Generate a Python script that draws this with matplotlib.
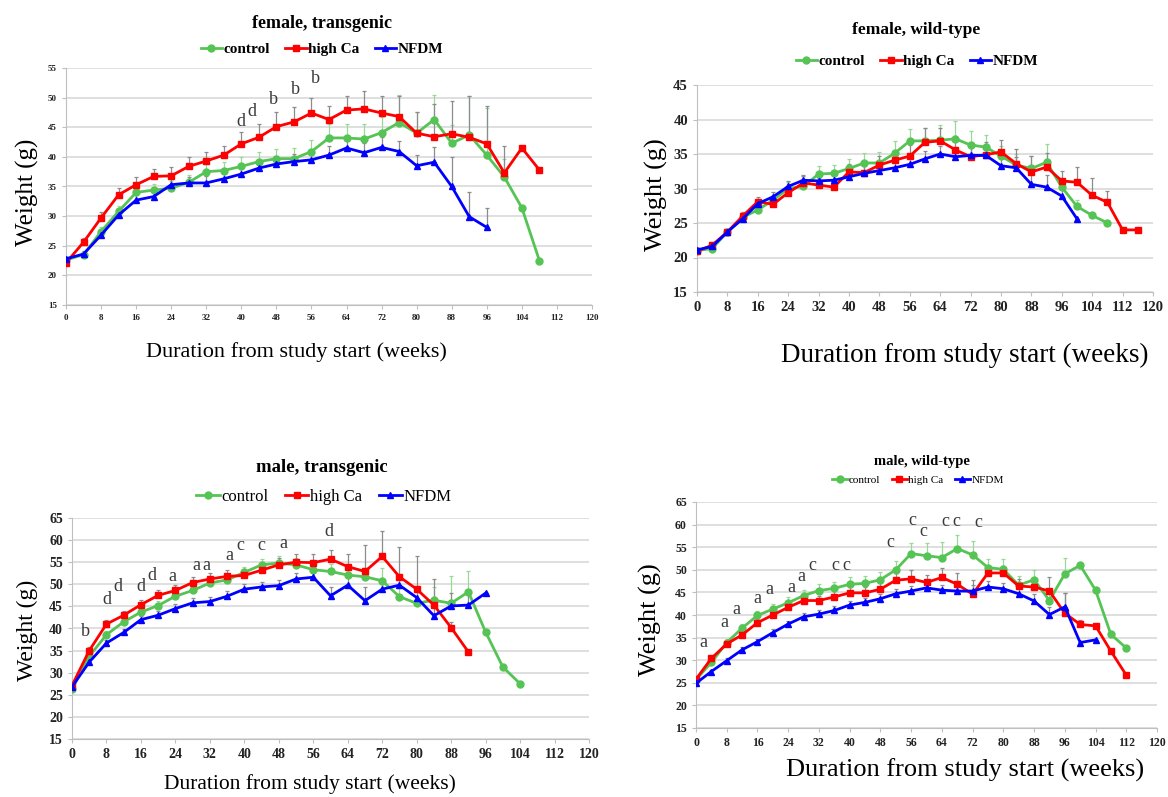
import numpy as np
import matplotlib
matplotlib.use('Agg')
import matplotlib.pyplot as plt
from matplotlib.lines import Line2D

plt.rcParams['font.family'] = ['Liberation Serif', 'DejaVu Serif']

# ---------------- dados (semanas de 4 em 4) ----------------
# female, transgenic
ft_control = [22.6, 23.5, 27.4, 30.8, 34.0, 34.4, 34.7, 35.7, 37.5, 37.7, 38.4, 39.2, 39.7, 39.7,
              40.9, 43.2, 43.2, 43.0, 44.1, 45.8, 44.0, 46.3, 42.3, 43.7, 40.3, 36.6, 31.4, 22.5]
ft_highca = [22.1, 25.6, 29.7, 33.6, 35.3, 36.7, 36.8, 38.4, 39.3, 40.3, 42.2, 43.3, 45.1, 45.9,
             47.4, 46.3, 47.9, 48.1, 47.4, 46.8, 44.0, 43.4, 43.9, 43.3, 42.2, 37.3, 41.5, 37.8]
ft_nfdm = [22.8, 23.6, 26.8, 30.2, 32.7, 33.3, 35.3, 35.6, 35.6, 36.3, 37.1, 38.1, 38.8, 39.2,
           39.5, 40.3, 41.5, 40.7, 41.6, 40.9, 38.5, 39.1, 35.0, 29.9, 28.1]
ft_control_err = [0.4, 0.6, 0.8, 0.9, 1.0, 1.0, 1.2, 1.3, 1.4, 1.5, 1.5, 1.6, 1.7, 1.8,
                  2.0, 2.3, 2.3, 2.5, 2.6, 4.6, 3.5, 4.1, 3.0, 6.5, 8.0, 3.0, 0, 0]
ft_highca_err = [0.5, 0.7, 1.0, 1.2, 1.3, 1.2, 1.5, 1.6, 1.6, 1.6, 2.0, 2.2, 2.5, 2.6,
                 2.5, 2.3, 2.4, 3.0, 2.8, 3.5, 3.6, 5.5, 5.6, 6.9, 6.4, 4.6, 0, 0]
ft_nfdm_err = [0.3, 0.5, 0.7, 0.8, 0.8, 0.9, 1.0, 1.0, 1.1, 1.1, 1.2, 1.2, 1.3, 1.3,
               1.4, 1.5, 1.6, 1.6, 1.7, 1.8, 1.9, 2.5, 5.0, 4.2, 3.3]
ft_letters = [(39.8, 45.9, 'd'), (42.4, 47.6, 'd'), (47.3, 49.6, 'b'), (52.3, 51.4, 'b'), (56.8, 53.3, 'b')]

# female, wild-type
fw_control = [21.0, 21.3, 23.7, 25.8, 26.9, 28.3, 30.0, 30.3, 32.1, 32.2, 32.9, 33.7, 33.7, 35.1,
              36.9, 36.9, 37.0, 37.2, 36.3, 36.0, 34.7, 33.4, 32.9, 33.8, 30.2, 27.4, 26.1, 25.0]
fw_highca = [20.9, 21.8, 23.7, 26.0, 28.1, 27.7, 29.4, 30.8, 30.5, 30.2, 32.4, 32.3, 33.4, 34.1,
             34.7, 36.7, 36.9, 35.6, 34.6, 34.9, 35.3, 33.6, 32.4, 33.1, 31.1, 30.9, 29.0, 28.0, 24.0, 24.0]
fw_nfdm = [21.1, 21.6, 23.7, 25.6, 27.8, 28.8, 30.3, 31.2, 31.1, 31.2, 31.7, 32.2, 32.6, 33.0,
           33.5, 34.3, 35.0, 34.6, 34.8, 34.8, 33.3, 33.0, 30.6, 30.2, 28.9, 25.6]
fw_control_err = [0.3, 0.4, 0.5, 0.6, 0.7, 0.8, 0.9, 1.0, 1.2, 1.2, 1.4, 1.5, 1.6, 1.8,
                  1.7, 1.8, 2.2, 2.6, 2.0, 1.8, 1.5, 1.6, 1.8, 2.7, 1.0, 1.0, 0, 0]
fw_highca_err = [0.3, 0.4, 0.5, 0.6, 0.7, 0.8, 0.9, 1.0, 1.0, 1.0, 1.2, 1.2, 1.3, 1.4,
                 1.6, 2.1, 1.9, 2.0, 1.8, 1.8, 1.7, 2.1, 2.3, 2.0, 1.5, 2.2, 2.5, 1.7, 0, 0]
fw_nfdm_err = [0.3, 0.3, 0.4, 0.5, 0.6, 0.7, 0.8, 0.8, 0.9, 0.9, 1.0, 1.0, 1.0, 1.1,
               1.1, 1.2, 1.2, 1.2, 1.3, 1.3, 1.4, 1.5, 1.6, 1.8, 1.5, 0]

# male, transgenic
mt_control = [26.3, 33.7, 38.6, 41.5, 43.7, 45.2, 47.3, 48.6, 50.3, 51.0, 52.7, 54.4, 54.8, 54.4,
              53.3, 52.9, 52.1, 51.7, 50.8, 47.2, 45.7, 46.4, 45.7, 48.3, 39.2, 31.3, 27.5]
mt_highca = [27.1, 35.0, 41.0, 43.0, 45.4, 47.5, 48.6, 50.4, 51.2, 51.8, 52.0, 53.2, 54.4, 55.0,
             54.9, 55.7, 54.0, 52.9, 56.3, 51.7, 48.9, 45.3, 40.2, 34.7]
mt_nfdm = [26.8, 32.4, 36.7, 39.1, 42.0, 43.0, 44.5, 45.8, 46.1, 47.3, 48.9, 49.4, 49.7, 51.2,
           51.6, 47.4, 49.8, 46.3, 48.9, 49.8, 47.0, 42.9, 45.1, 45.3, 48.0]
mt_control_err = [0.4, 0.7, 0.8, 0.9, 1.0, 1.0, 1.1, 1.2, 1.2, 1.3, 1.3, 1.4, 1.5, 1.6,
                  1.6, 1.7, 1.8, 1.9, 2.8, 2.0, 2.5, 3.0, 6.2, 4.8, 0, 0, 0]
mt_highca_err = [0.5, 0.8, 1.0, 1.0, 1.1, 1.2, 1.2, 1.3, 1.3, 1.4, 1.4, 1.5, 1.6, 1.8,
                 2.0, 2.0, 2.9, 6.0, 5.7, 6.7, 7.5, 6.0, 1.2, 0]
mt_nfdm_err = [0.4, 0.6, 0.7, 0.8, 0.8, 0.9, 1.0, 1.0, 1.1, 1.1, 1.2, 1.2, 1.3, 1.4,
               1.5, 2.0, 1.8, 3.2, 2.0, 2.2, 2.5, 4.0, 3.0, 3.0, 0]
mt_letters = [(3.2, 39.4, 'b'), (8.1, 46.5, 'd'), (10.7, 49.5, 'd'), (16.1, 49.5, 'd'), (18.6, 52.0, 'd'),
              (23.3, 51.8, 'a'), (28.9, 54.3, 'a'), (31.2, 54.3, 'a'), (36.5, 56.5, 'a'), (39.0, 58.8, 'c'),
              (44.0, 58.8, 'c'), (49.1, 59.2, 'a'), (59.6, 62.0, 'd')]

# male, wild-type
mw_control = [25.7, 29.5, 33.9, 37.1, 39.9, 41.3, 42.7, 44.3, 45.4, 45.9, 46.8, 47.0, 47.8, 50.0,
              53.6, 53.1, 52.7, 54.7, 53.3, 50.5, 50.1, 46.6, 47.8, 43.2, 49.1, 51.0, 45.5, 35.7, 32.7]
mw_highca = [25.8, 30.4, 33.6, 35.6, 38.3, 40.0, 41.7, 43.2, 43.2, 44.0, 44.9, 44.9, 45.7, 47.7,
             48.0, 47.2, 48.3, 46.8, 44.6, 49.3, 49.3, 46.4, 46.2, 45.3, 40.4, 37.9, 37.6, 32.0, 26.7]
mw_nfdm = [24.9, 27.5, 29.9, 32.3, 34.1, 36.1, 38.0, 39.6, 40.2, 41.0, 42.2, 42.8, 43.6, 44.7,
           45.3, 46.0, 45.5, 45.3, 45.3, 46.2, 45.8, 44.7, 43.1, 40.1, 41.8, 33.9, 34.5]
mw_control_err = [0.4, 0.6, 0.8, 1.0, 1.0, 1.1, 1.2, 1.3, 1.4, 1.5, 1.6, 1.7, 1.8, 2.0,
                  2.3, 2.8, 3.5, 2.9, 3.1, 2.0, 2.4, 2.0, 2.2, 1.8, 3.5, 0, 0, 0, 0]
mw_highca_err = [0.4, 0.6, 0.7, 0.8, 0.9, 1.0, 1.0, 1.1, 1.1, 1.2, 1.2, 1.3, 1.4, 1.5,
                 1.9, 1.6, 2.2, 2.5, 3.1, 1.5, 1.5, 1.6, 1.7, 3.1, 4.5, 1.0, 0, 0, 0]
mw_nfdm_err = [0.3, 0.4, 0.5, 0.6, 0.6, 0.7, 0.7, 0.8, 0.8, 0.9, 0.9, 1.0, 1.0, 1.1,
               1.1, 1.2, 1.2, 1.2, 1.3, 1.3, 1.3, 1.4, 1.5, 1.6, 3.1, 0, 0]
mw_letters = [(1.9, 33.9, 'a'), (7.5, 38.3, 'a'), (10.4, 41.3, 'a'), (16.0, 43.7, 'a'), (19.0, 45.7, 'a'),
              (24.8, 46.1, 'a'), (27.5, 48.5, 'a'), (30.4, 50.9, 'c'), (36.2, 50.9, 'c'), (39.2, 50.9, 'c'),
              (50.6, 56.0, 'c'), (56.4, 60.8, 'c'), (59.3, 58.4, 'c'), (65.0, 60.7, 'c'), (67.8, 60.7, 'c'),
              (73.5, 60.4, 'c')]

series_names = ['control', 'high Ca', 'NFDM']
colors = ['#55c455', '#ff0000', '#0000ff']
err_colors = ['#9ad89a', '#8c8c8c', '#8c8c8c']
markers = ['o', 's', '^']
x_ticks = np.arange(0, 121, 8)

W, H = 1168, 797
fig = plt.figure(figsize=(W / 100, H / 100), dpi=100)


def px(x0, y0, x1, y1):
    # converte caixa em pixels para coordenadas da figura
    return [x0 / W, 1 - y1 / H, (x1 - x0) / W, (y1 - y0) / H]


def painel(box, ylim, ystep, series, errs, letters, title, title_pos, title_fs,
           leg_pos, leg_fs, leg_bold, tick_fs, ylab_pos, ylab_fs, xlab_pos, xlab_fs):
    ax = fig.add_axes(px(*box))
    for i in range(3):
        y = np.array(series[i])
        e = np.array(errs[i])
        wk = np.arange(len(y)) * 4
        ax.errorbar(wk, y, yerr=[np.zeros(len(e)), e], fmt='none', ecolor=err_colors[i],
                    elinewidth=0.9, capsize=1.5, capthick=0.9, zorder=2)
    for i in range(3):
        y = np.array(series[i])
        wk = np.arange(len(y)) * 4
        ax.plot(wk, y, color=colors[i], marker=markers[i], markersize=5, linewidth=2, zorder=3)
    for (xx, yy, s) in letters:
        ax.text(xx, yy, s, ha='center', va='center', fontsize=13, color='#3a3a3a')
    ax.set_xlim(0, 120)
    ax.set_ylim(*ylim)
    ax.set_xticks(x_ticks)
    ax.set_yticks(np.arange(ylim[0], ylim[1] + 1, ystep))
    ax.yaxis.grid(True, color='#d9d9d9', linewidth=1.2)
    ax.set_axisbelow(True)
    for s in ['top', 'right']:
        ax.spines[s].set_visible(False)
    for s in ['left', 'bottom']:
        ax.spines[s].set_color('#bfbfbf')
    ax.tick_params(colors='#bfbfbf', labelcolor='#222222', length=3, labelsize=tick_fs)
    for lb in ax.get_xticklabels() + ax.get_yticklabels():
        lb.set_fontweight('bold')

    fig.text(title_pos[0] / W, 1 - title_pos[1] / H, title, ha='center', va='center',
             fontsize=title_fs, fontweight='bold')
    handles = [Line2D([], [], color=colors[i], marker=markers[i], markersize=5, linewidth=2)
               for i in range(3)]
    fig.legend(handles, series_names, loc='center', bbox_to_anchor=(leg_pos[0] / W, 1 - leg_pos[1] / H),
               ncol=3, frameon=False, handlelength=1.4, handletextpad=0.1, columnspacing=1.0,
               prop={'size': leg_fs, 'weight': 'bold' if leg_bold else 'normal'})
    fig.text(ylab_pos[0] / W, 1 - ylab_pos[1] / H, 'Weight (g)', rotation=90, ha='center', va='center',
             fontsize=ylab_fs)
    fig.text(xlab_pos[0] / W, 1 - xlab_pos[1] / H, 'Duration from study start (weeks)',
             ha='center', va='center', fontsize=xlab_fs)
    return ax


painel((66, 68, 592, 305), (15, 55), 5,
       [ft_control, ft_highca, ft_nfdm], [ft_control_err, ft_highca_err, ft_nfdm_err], ft_letters,
       'female, transgenic', (322, 24), 13, (322, 49), 11, True, 6.5, (27, 192), 18, (296, 352), 16)

painel((697, 85, 1153, 292), (15, 45), 5,
       [fw_control, fw_highca, fw_nfdm], [fw_control_err, fw_highca_err, fw_nfdm_err], [],
       'female, wild-type', (916, 30), 12.5, (917, 61), 11, True, 10.5, (656, 195), 19, (965, 355), 19.5)

painel((72, 518, 589, 739), (15, 65), 5,
       [mt_control, mt_highca, mt_nfdm], [mt_control_err, mt_highca_err, mt_nfdm_err], mt_letters,
       'male, transgenic', (322, 468), 13.5, (324, 497), 12, False, 10, (27, 630), 17, (310, 784), 15.5)

painel((696, 502, 1157, 728), (15, 65), 5,
       [mw_control, mw_highca, mw_nfdm], [mw_control_err, mw_highca_err, mw_nfdm_err], mw_letters,
       'male, wild-type', (922, 462), 10.5, (918, 480), 8, False, 8.5, (650, 620), 19, (965, 770), 19)

plt.savefig('out.png', dpi=100)
